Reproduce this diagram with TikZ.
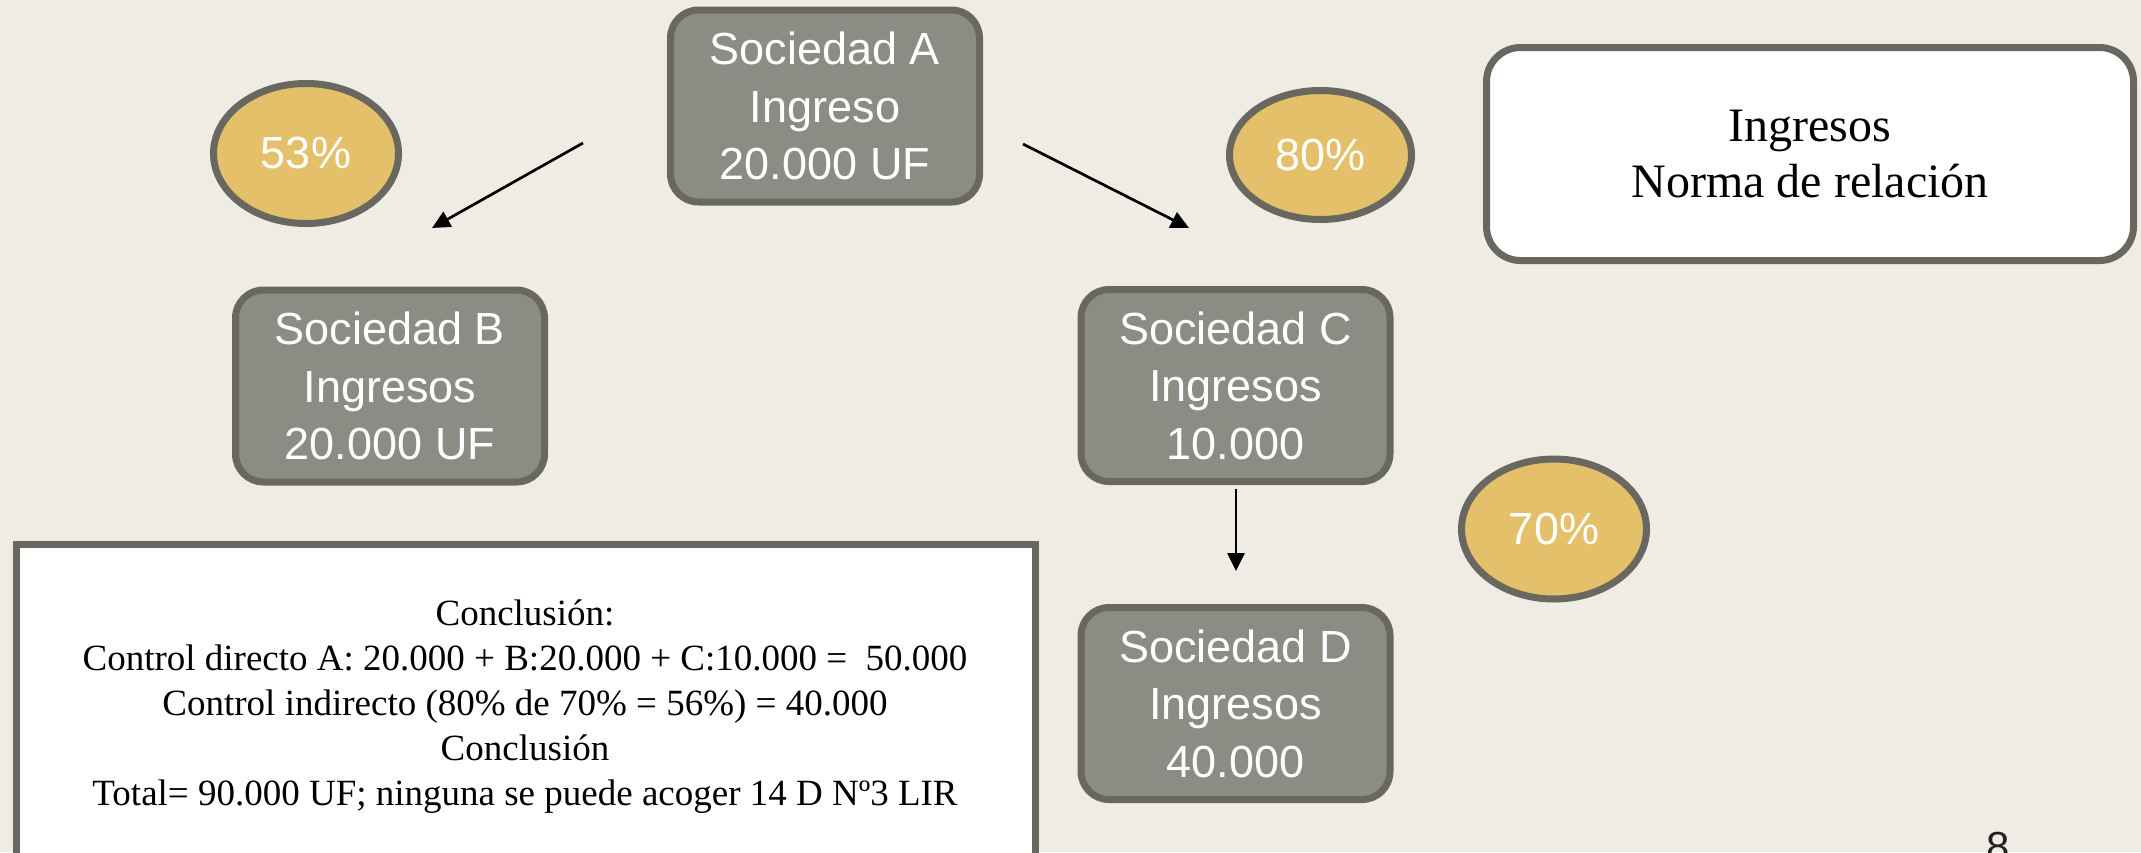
\documentclass[tikz,border=0pt]{standalone}
\usepackage{fontspec}
\setmainfont{Liberation Serif}
\newfontfamily\boxfont{Liberation Sans}
\usetikzlibrary{arrows.meta,shapes.geometric}
\definecolor{bgc}{HTML}{EFECE4}
\definecolor{boxfill}{HTML}{8C8C85}
\definecolor{boxline}{HTML}{686860}
\definecolor{ovalfill}{HTML}{E5C06A}
\definecolor{pagenum}{HTML}{222222}
\tikzset{
  soc/.style={draw=boxline, fill=boxfill, line width=7pt, rounded corners=28pt,
    minimum width=309pt, minimum height=192pt, inner sep=0pt, align=center,
    text=white, font=\boxfont\fontsize{45}{57.5}\selectfont},
  pct/.style={ellipse, draw=boxline, fill=ovalfill, line width=7pt, inner sep=0pt,
    text=white, font=\boxfont\fontsize{45}{54}\selectfont},
  note/.style={draw=boxline, fill=white, line width=7pt, rounded corners=34pt,
    minimum width=647pt, minimum height=213pt, inner sep=0pt, align=center,
    text=black, font=\fontsize{48}{56}\selectfont},
  concltext/.style={align=center, text=black, inner sep=0pt,
    font=\fontsize{37}{45}\selectfont},
  arr/.style={line width=2.7pt, black, -{Triangle[length=18pt,width=17pt]}}
}
\begin{document}
\begin{tikzpicture}[x=1pt,y=-1pt]
\fill[bgc] (0,0) rectangle (2141,852);
\useasboundingbox (0,0) rectangle (2141,852);

% companies
\node[soc] (A) at (825,106) {Sociedad A\\Ingreso\\20.000 UF};
\node[soc] (B) at (390,386) {Sociedad B\\Ingresos\\20.000 UF};
\node[soc] (C) at (1235.5,385.5) {Sociedad C\\Ingresos\\10.000};
\node[soc] (D) at (1235.5,703.5) {Sociedad D\\Ingresos\\40.000};

% percentages
\node[pct, minimum width=185pt, minimum height=140pt] (p53) at (306,153.5) {53\%};
\node[pct, minimum width=182pt, minimum height=129pt] (p80) at (1320.5,155) {80\%};
\node[pct, minimum width=185pt, minimum height=140pt] (p70) at (1554,529) {70\%};

% note box
\node[note] (N) at (1810,154) {Ingresos\\Norma de relación};

% arrows
\coordinate (ab1) at (583,143);
\coordinate (ab2) at (432,228);
\coordinate (ac1) at (1023,144);
\coordinate (ac2) at (1189,228);
\coordinate (cd1) at (1236,489);
\coordinate (cd2) at (1236,571);
\draw[arr] (ab1) -- (ab2);
\draw[arr] (ac1) -- (ac2);
\draw[arr] (cd1) -- (cd2);

% conclusion box
\draw[draw=boxline, fill=white, line width=7pt] (16,900) -- (16,544) -- (1035,544) -- (1035,900);
\node[concltext] (concl) at (525,707) {Conclusión:\\
Control directo A: 20.000 + B:20.000 + C:10.000 =~ 50.000\\
Control indirecto (80\% de 70\% = 56\%) = 40.000\\
Conclusión\\
Total= 90.000 UF; ninguna se puede acoger 14 D Nº3 LIR};

% page number
\node[anchor=base, inner sep=0pt, text=pagenum, font=\boxfont\fontsize{42}{42}\selectfont] (pg) at (1998,861) {8};
\end{tikzpicture}
\end{document}
